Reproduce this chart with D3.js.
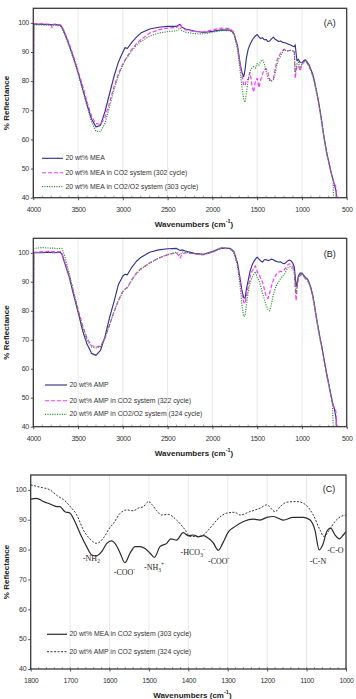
<!DOCTYPE html>
<html><head><meta charset="utf-8">
<script src="https://cdn.jsdelivr.net/npm/d3@7"></script>
<style>body{margin:0;background:#fff}svg{display:block}</style>
</head><body>
<svg id="c" width="356" height="699"></svg>
<script>
// ---------- DATA ----------
const gridAB = [4000,3995,3900,3800,3790,3780,3750,3700,3680,3650,
  3600,3550,3500,3450,3400,3350,3300,3250,3200,3150,
  3100,3050,3000,2975,2950,2900,2850,2800,2700,2600,
  2500,2400,2360,2340,2300,2200,2100,2000,1900,1800,
  1760,1720,1690,1670,1650,1635,1620,1600,1580,1560,
  1540,1520,1500,1480,1460,1440,1420,1400,1380,1360,
  1340,1320,1300,1280,1260,1240,1220,1200,1180,1160,
  1140,1120,1100,1085,1075,1065,1055,1040,1020,1000,
  980,960,940,920,900,880,860,840,820,800,
  780,760,740,720,700,680,660,650,648,640,
  625,618,615];

const aMEA = [40,99.6,99.5,99.4,99.4,99.4,99.4,99.2,98.5,96.5,
  92.5,88,83,77.5,72,67,64.3,64.8,69.5,75.5,
  81.5,86.5,90,91.5,91.2,93.3,95,96.5,97.9,98.5,
  98.8,98.8,99.5,98.5,97.9,97.2,96.7,97.1,97.6,97.5,
  96.4,92.3,86,83,81.5,84,88,91,92.6,93.8,
  94.8,95.5,96,95.2,94.6,94.9,94.2,94.3,93.6,93.8,
  94.5,95.1,94.4,94,93.6,93.8,93.4,93.2,93.1,92.8,
  92.6,92.3,92,91.8,92.5,89.5,87,87.5,86.4,86.3,
  87,87.3,86.5,85.6,84,82.5,80,77,74,70.3,
  66.5,62.2,58.5,55,52.3,49.5,47,46,45.7,44.8,
  43,42,40];
const aMEACO2 = [40,99.8,99.7,99.5,98.3,99.5,99.6,99.4,98.8,96.8,
  93,88.5,83.5,78.5,73,68,65.4,65.2,67.5,72.5,
  78,82.5,86,87.3,88.5,91,92.8,94.2,96.5,97.6,
  98.2,98.4,99.6,98.3,97.6,97,96.9,97.6,98.2,98,
  96.8,91.5,85.5,82,78.5,78.5,80.5,80.5,83,79,
  76.2,80,81,77.8,80.5,82.5,84,84.3,83,80.5,
  80.2,80.8,84,87,88.5,89.5,90.3,91,90.6,90.4,
  90.5,90.6,90.5,90,81,83.5,85,85.3,83.5,85.5,
  86.5,87,86,85,83.5,81.8,79.5,76.5,73.5,69.8,
  66,61.8,58,54.5,52,49.3,46.8,46,45.8,45,
  44,43.5,40];
const aMEAO2 = [40,99.3,99.3,99.2,99.2,99.2,99.2,99,98.3,96,
  92,87.5,82.5,77,71.5,66,62.8,62.7,65.5,71,
  77,81.8,85.5,87,88.2,90.5,92.2,93.6,95.5,96.5,
  97,97.3,98.3,97.3,96.8,96.3,96.2,96.8,97.3,97.3,
  96.2,91,83.5,78,73.5,72.8,76,80.5,83.5,84.5,
  85,84.5,86,85.5,86.8,87.4,86,83.3,81,80.2,
  80,80.3,82.5,85.5,87.5,88.5,89.8,90.8,90.5,90.4,
  90.6,90.5,90.3,90,83,84,86,86.5,84.5,86,
  86.8,87,86.2,85.2,83.7,82,79.8,76.8,73.8,70,
  66.2,62,58.2,54.7,52.2,49.5,47,45.5,40,null,
  null,null,null];

const bAMP = [40,100,100,100.2,100.1,100,100,100.2,99.5,96.5,
  91.8,85.5,79.5,73.2,68.5,65.3,64.6,66.3,71,77.5,
  83,89,92,92.6,92.4,95,97,98.4,100.2,101,
  101.4,101.5,100.8,101,100.6,99.8,99.5,100.4,101.6,101.5,
  100.5,96.5,91,87,84.5,84.3,87.5,90.5,93.5,95.5,
  96.8,97.8,98.5,97.8,97.2,96.8,97.6,97.7,97.3,97.5,
  97.8,97.6,97.2,97,96.8,96.9,96.5,96.2,96.6,97.2,
  97.5,97.2,96.3,95,92,88.3,89.5,92,93,93,
  92.2,91.5,91,89.8,88,85.5,82,78,74.5,71,
  68,64.5,61,57.8,54.8,51.5,48.5,47.5,47.2,46.5,
  44,42.5,40];
const bAMPCO2 = [40,100.2,100.4,100.5,100.3,100.4,100.3,100.4,99.8,97,
  92.5,86.5,80.5,75,70.5,68,67.5,67.8,70.5,75,
  79.5,83.5,86.8,87.5,88,90.8,93,94.5,96.5,98.2,
  99.3,100,98.2,99.5,100,99.6,99.3,100.2,101.6,101.3,
  100.3,96,90.5,86,83,82.5,85,88.5,91.5,93.5,
  94.5,95.5,93.5,92.5,91.2,89.8,87.5,85,84.2,86.2,
  88.5,90.5,91.8,92.8,93.3,93.6,93.5,94,94.8,95.8,
  96.2,95.9,95,93.8,88,83.5,87.5,91,92.2,92.5,
  91.8,91,90.5,89.3,87.5,85,81.5,77.5,74,70.5,
  67.5,64,60.5,57.3,54.3,51,48.2,47.3,47.1,46.8,
  46,44.5,40];
const bAMPO2 = [40,101.5,101.8,101.6,101.5,101.7,101.4,101.5,101.5,99,
  93,86.5,80,74.5,70,67.5,67.2,67.5,70.5,75,
  79.5,83.5,86.5,87.3,88,90.5,92.7,94.3,96.5,98.2,
  99.4,100.2,99.3,100.3,100.2,99.7,99.4,100.3,101.8,101.4,
  100,95.5,88.5,82,78,78.2,82,86.5,89.5,91.3,
  92.5,93.5,91.5,90.5,88.5,86,84,82,80.5,80,
  82.5,85.5,87.5,89,90,91,92,92.3,93.5,94.8,
  95.3,95,94.3,93,89,86,88.5,91.5,92.5,92.8,
  92,91.3,90.8,89.6,87.8,85.2,81.8,77.8,74.3,70.8,
  67.8,64.3,60.8,57.6,54.6,51.4,48.4,40,null,null,
  null,null,null];

const cMEAWave = [1800,1785,1768,1751,1734,1726,1713,1700,1688,1675,
  1658,1645,1633,1620,1607,1595,1586,1573,1561,1548,
  1535,1523,1510,1497,1486,1472,1455,1445,1430,1413,
  1400,1387,1375,1362,1349,1337,1324,1313,1298,1282,
  1260,1235,1218,1201,1184,1159,1134,1108,1091,1079,
  1068,1059,1049,1039,1028,1017,1007,1000];
const cMEA = [96.9,97.2,96.1,95.3,94.4,94.4,92.7,92.2,89.4,85.5,
  81,78.2,77.9,79.3,82.1,82.9,82.1,78.8,75.6,78.8,
  81,81,80.4,78.8,77.4,81,82.1,83.6,83.2,85.7,
  84.6,84.9,84.3,84.7,83.8,82.3,79.8,82.1,86,87.7,
  89.4,90.2,89.9,90.8,91.1,89.9,90.8,90.8,89.9,86.6,
  79.9,81.6,86,87.2,84.9,83.6,84.9,86];
const cAMPWave = [1800,1776,1751,1730,1717,1700,1683,1666,1649,1633,
  1616,1600,1590,1573,1556,1540,1527,1514,1501,1493,
  1480,1468,1451,1430,1408,1396,1370,1345,1328,1303,
  1282,1269,1244,1218,1201,1180,1167,1150,1125,1104,
  1083,1066,1056,1045,1028,1007,1000];
const cAMP = [101.7,100.9,100,97.8,96.8,94.5,91.6,86.5,83.5,82.1,
  83.8,87.2,88.8,92.2,93.3,93,93.9,94.4,96.1,95.2,
  93,91.6,91.8,89.9,86.6,84.4,84.4,87.2,89.9,92.2,
  92.5,91.6,92.7,93.9,95,92.7,94.4,95.9,96.1,95.2,
  91.6,86.6,84.4,86,89.4,91.4,91.5];

const xTicksAB = [4000,3500,3000,2500,2000,1500,1000,500];
const xTicksC = [1800,1700,1600,1500,1400,1300,1200,1100,1000];
const yTicks = [40,50,60,70,80,90,100];

const legendA = ["20 wt% MEA","20 wt% MEA in CO2 system (302 cycle)","20 wt% MEA in CO2/O2 system (303 cycle)"];
const legendB = ["20 wt% AMP","20 wt% AMP in CO2 system (322 cycle)","20 wt% AMP in CO2/O2 system (324 cycle)"];
const legendC = ["20 wt% MEA in CO2 system (303 cycle)","20 wt% AMP in CO2 system (324 cycle)"];

// annotation labels for panel C: text, sub/sup, anchor in data units
const annotText = ["-NH","-COO","-NH","-HCO","-COO","-C-N","-C-O"];
const annotSub  = ["2","","3","3","","",""];
const annotSup  = ["","-","+","-","-","",""];
const annotWave = [1646,1562,1487,1389,1323,1071,1027];
const annotVal  = [76.8,72.1,73.7,78.8,75.8,75.8,79.7];

// ---------- DRAW ----------
const svg = d3.select("#c");
const FONT = "Liberation Sans, Arial, sans-serif";
const styleAB = [
  {color:"#34348a", dash:null, w:1.15},
  {color:"#ff33ff", dash:"4,2", w:1.15},
  {color:"#2f8f2f", dash:"1.1,1.3", w:1.2}
];
const styleC = [
  {color:"#2a2a2a", dash:null, w:1.2},
  {color:"#2a2a2a", dash:"2,1.5", w:0.95}
];

function panel(o){
  const g = svg.append("g");
  const x = d3.scaleLinear().domain(o.xDomain).range([o.left,o.right]);
  const y = d3.scaleLinear().domain([40,105]).range([o.bottom,o.top]);
  g.selectAll(".gx").data(o.xTicks.slice(1,-1)).join("line")
    .attr("x1",d=>x(d)).attr("x2",d=>x(d)).attr("y1",o.top).attr("y2",o.bottom)
    .attr("stroke","#e2e2e2").attr("stroke-width",0.8);
  const minor = d3.range(o.xDomain[1], o.xDomain[0]+0.1, o.minorStep);
  g.selectAll(".mx").data(minor).join("line")
    .attr("x1",d=>x(d)).attr("x2",d=>x(d)).attr("y1",o.bottom).attr("y2",o.bottom-2)
    .attr("stroke","#555").attr("stroke-width",0.6);
  const xa = d3.axisBottom(x).tickValues(o.xTicks).tickSize(2.5).tickFormat(d3.format("d"));
  const xg = g.append("g").attr("transform",`translate(0,${o.bottom})`).call(xa);
  xg.select(".domain").remove();
  xg.selectAll("line").attr("stroke","#555");
  xg.selectAll("text").attr("font-family",FONT).attr("font-size",7).attr("letter-spacing",-0.35)
    .attr("fill","#333").attr("dy",null).attr("y",12).attr("dominant-baseline","middle");
  const ya = d3.axisLeft(y).tickValues(yTicks).tickSize(2.5);
  const yg = g.append("g").attr("transform",`translate(${o.left},0)`).call(ya);
  yg.select(".domain").remove();
  yg.selectAll("line").attr("stroke","#555");
  yg.selectAll("text").attr("font-family",FONT).attr("font-size",7).attr("letter-spacing",-0.35)
    .attr("fill","#333").attr("x",-4.5).attr("dy",null).attr("dominant-baseline","middle");
  const clip = "clip"+o.id;
  svg.append("clipPath").attr("id",clip).append("rect")
    .attr("x",o.left).attr("y",o.top).attr("width",o.right-o.left).attr("height",o.bottom-o.top);
  const lg = g.append("g").attr("clip-path",`url(#${clip})`);
  o.series.forEach((s,i)=>{
    const pts = s.xs.map((w,k)=>[w,s.ys[k]]);
    const line = d3.line().defined(d=>d[1]!=null).x(d=>x(d[0])).y(d=>y(d[1]))
      .curve(o.curve||d3.curveLinear);
    lg.append("path").datum(pts).attr("d",line).attr("fill","none")
      .attr("stroke",o.styles[i].color).attr("stroke-width",o.styles[i].w)
      .attr("stroke-dasharray",o.styles[i].dash).attr("stroke-linejoin","round");
  });
  g.append("rect").attr("x",o.left).attr("y",o.top).attr("width",o.right-o.left).attr("height",o.bottom-o.top)
    .attr("fill","none").attr("stroke","#3a3a3a").attr("stroke-width",1.3);
  g.append("text").attr("x",o.right-17).attr("y",o.labelY).attr("text-anchor","middle")
    .attr("dominant-baseline","middle").attr("font-family",FONT).attr("font-size",9)
    .attr("fill","#222").text(o.label);
  const xt = g.append("text").attr("x",(o.left+o.right)/2+4).attr("y",o.bottom+27)
    .attr("text-anchor","middle").attr("dominant-baseline","middle").attr("font-family",FONT)
    .attr("font-size",8).attr("font-weight","bold").attr("fill","#222");
  xt.append("tspan").text("Wavenumbers (cm");
  xt.append("tspan").attr("font-size",5.5).attr("baseline-shift","super").text("-1");
  xt.append("tspan").text(")");
  g.append("text").attr("transform",`translate(7,${(o.top+o.bottom)/2}) rotate(-90)`)
    .attr("text-anchor","middle").attr("dominant-baseline","middle").attr("font-family",FONT)
    .attr("font-size",8).attr("font-weight","bold").attr("fill","#222").text("% Reflectance");
  o.legend.forEach((t,i)=>{
    const ly = o.legY[i];
    g.append("line").attr("x1",o.legX0).attr("x2",o.legX1).attr("y1",ly).attr("y2",ly)
      .attr("stroke",o.styles[i].color).attr("stroke-width",o.styles[i].w)
      .attr("stroke-dasharray",o.styles[i].dash);
    g.append("text").attr("x",o.legX1+2.5).attr("y",ly).attr("dominant-baseline","middle")
      .attr("font-family",FONT).attr("font-size",6.9).attr("fill","#333").text(t);
  });
  return {g,x,y};
}

panel({id:"A", left:33.3, right:346.7, top:8.3, bottom:197.7, xDomain:[4000,500],
  xTicks:xTicksAB, minorStep:100, label:"(A)", labelY:24,
  series:[{xs:gridAB,ys:aMEA},{xs:gridAB,ys:aMEACO2},{xs:gridAB,ys:aMEAO2}],
  styles:styleAB, legend:legendA, legX0:42, legX1:63, legY:[158.3,172.7,186.7]});

panel({id:"B", left:33.3, right:346.7, top:238.3, bottom:426.7, xDomain:[4000,500],
  xTicks:xTicksAB, minorStep:100, label:"(B)", labelY:254.5,
  series:[{xs:gridAB,ys:bAMP},{xs:gridAB,ys:bAMPCO2},{xs:gridAB,ys:bAMPO2}],
  styles:styleAB, legend:legendB, legX0:45, legX1:67, legY:[385,400.7,414.3]});

const pc = panel({id:"C", left:30.7, right:346, top:475, bottom:669, xDomain:[1800,1000],
  xTicks:xTicksC, minorStep:20, label:"(C)", labelY:490, curve:d3.curveMonotoneX,
  series:[{xs:cMEAWave,ys:cMEA},{xs:cAMPWave,ys:cAMP}],
  styles:styleC, legend:legendC, legX0:47, legX1:67, legY:[634.3,651.7]});

annotText.forEach((t,i)=>{
  const tx = pc.g.append("text").attr("x",pc.x(annotWave[i])).attr("y",pc.y(annotVal[i]))
    .attr("text-anchor","middle").attr("dominant-baseline","middle")
    .attr("font-family","Liberation Serif, Times New Roman, serif").attr("font-size",8).attr("fill","#222");
  tx.append("tspan").text(t);
  if(annotSub[i]) tx.append("tspan").attr("font-size",5.5).attr("baseline-shift","sub").text(annotSub[i]);
  if(annotSup[i]) tx.append("tspan").attr("font-size",5.5).attr("baseline-shift","super").text(annotSup[i]);
});
</script>
</body></html>
